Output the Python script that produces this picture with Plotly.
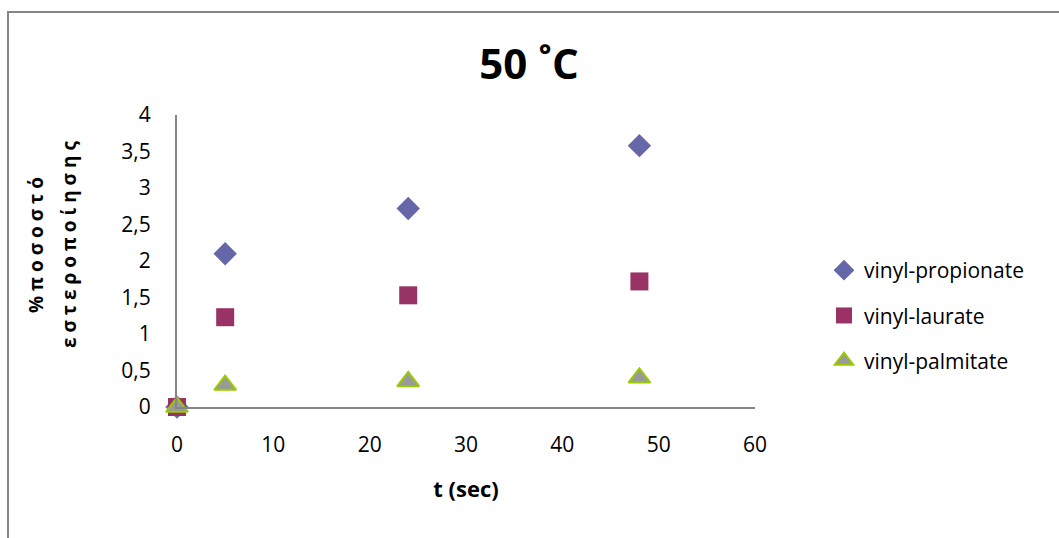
import plotly.graph_objects as go

t_values = [0, 5, 24, 48]
propionate = [0, 2.1, 2.72, 3.58]
laurate = [0, 1.23, 1.53, 1.72]
palmitate = [0, 0.3, 0.35, 0.4]

x_ticks = [0, 10, 20, 30, 40, 50, 60]
y_ticks = [0, 0.5, 1, 1.5, 2, 2.5, 3, 3.5, 4]
y_tick_text = ["0", "0,5", "1", "1,5", "2", "2,5", "3", "3,5", "4"]

W, H = 1059, 538
L, R, T, B = 177, 304, 115, 131
pw, ph = W - L - R, H - T - B

def px_x(px):
    return (px - L) / pw

def px_y(py):
    return (H - B - py) / ph

font = "Open Sans"

fig = go.Figure()
fig.add_trace(go.Scatter(x=t_values, y=propionate, mode="markers", name="vinyl-propionate",
                         legendgroup="a",
                         marker=dict(symbol="diamond", size=18, color="#6667A8",
                                     line=dict(width=0)), cliponaxis=False))
fig.add_trace(go.Scatter(x=t_values, y=laurate, mode="markers", name="vinyl-laurate",
                         legendgroup="b",
                         marker=dict(symbol="square", size=18, color="#993366",
                                     line=dict(width=0)), cliponaxis=False))
fig.add_trace(go.Scatter(x=t_values, y=palmitate, mode="markers", name="vinyl-palmitate",
                         legendgroup="c",
                         marker=dict(symbol="triangle-up", size=19, color="#999999",
                                     line=dict(width=2, color="#99CC00")), cliponaxis=False))

fig.update_layout(
    width=W, height=H,
    margin=dict(l=L, r=R, t=T, b=B),
    paper_bgcolor="white", plot_bgcolor="white",
    separators=",.",
    showlegend=True,
    title=dict(text="<b>50 ˚C</b>", x=px_x(529), xref="paper", xanchor="center",
               y=1 - 64 / H, yanchor="middle",
               font=dict(family=font, size=42, color="black")),
    legend=dict(x=px_x(824), y=px_y(250), xanchor="left", yanchor="top",
                font=dict(family=font, size=21, color="black"),
                tracegroupgap=15, itemwidth=30, bgcolor="rgba(0,0,0,0)"),
    xaxis=dict(range=[0, 60], tickvals=x_ticks, showgrid=False, zeroline=False,
               showline=True, linecolor="#868686", linewidth=2, ticks="",
               tickfont=dict(family=font, size=21, color="black"), ticklabelstandoff=18,
               title=dict(text="<b>t (sec)</b>", font=dict(family=font, size=22, color="black"),
                          standoff=24)),
    yaxis=dict(range=[0, 4], tickvals=y_ticks, ticktext=y_tick_text, showgrid=False,
               zeroline=False, showline=True, linecolor="#868686", linewidth=2, ticks="",
               tickfont=dict(family=font, size=21, color="black"), ticklabelstandoff=20),
)

fig.add_annotation(text="<b>% π ο σ ο σ τ ό</b>", x=px_x(36), y=px_y(245), xref="paper", yref="paper",
                   textangle=-90, showarrow=False, xanchor="center", yanchor="middle",
                   font=dict(family=font, size=19, color="black"))
fig.add_annotation(text="<b>ε σ τ ε ρ ο π ο ί η σ η ς</b>", x=px_x(69), y=px_y(245), xref="paper", yref="paper",
                   textangle=-90, showarrow=False, xanchor="center", yanchor="middle",
                   font=dict(family=font, size=19, color="black"))

# chart border (left and top edges visible)
fig.add_shape(type="line", xref="paper", yref="paper", x0=px_x(8), x1=px_x(8),
              y0=px_y(11), y1=px_y(540), line=dict(color="#868686", width=2))
fig.add_shape(type="line", xref="paper", yref="paper", x0=px_x(7), x1=px_x(1062),
              y0=px_y(12), y1=px_y(12), line=dict(color="#868686", width=2))

fig.write_html("out.html")
